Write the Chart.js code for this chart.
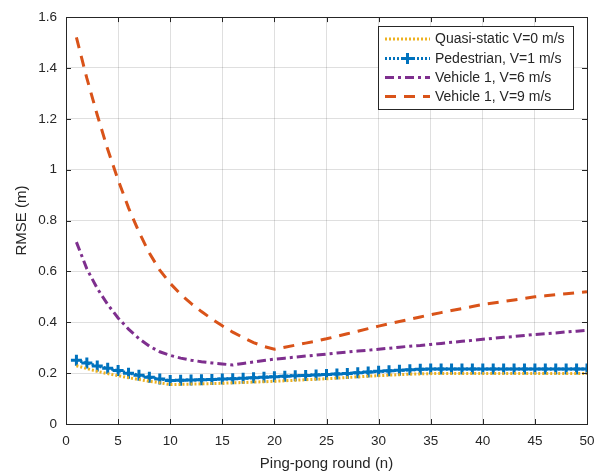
<!DOCTYPE html>
<html>
<head>
<meta charset="utf-8">
<script src="https://cdn.jsdelivr.net/npm/chart.js@4/dist/chart.umd.min.js"></script>
<style>
  html, body { margin: 0; padding: 0; background: #ffffff; }
  canvas { display: block; }
</style>
</head>
<body>
<canvas id="rmse-chart" width="604" height="476"></canvas>
<script>

// ping-pong rounds (x axis)
const rounds = [1, 2, 3, 4, 5, 6, 7, 8, 9, 10,
    11, 12, 13, 14, 15, 16, 17, 18, 19, 20,
    21, 22, 23, 24, 25, 26, 27, 28, 29, 30,
    31, 32, 33, 34, 35, 36, 37, 38, 39, 40,
    41, 42, 43, 44, 45, 46, 47, 48, 49, 50];

const quasiStatic = [0.229, 0.218, 0.207, 0.198, 0.190, 0.182, 0.175, 0.168, 0.162, 0.155,
    0.156, 0.157, 0.158, 0.159, 0.160, 0.162, 0.163, 0.165, 0.166, 0.168,
    0.170, 0.172, 0.174, 0.176, 0.178, 0.180, 0.183, 0.185, 0.188, 0.190,
    0.192, 0.194, 0.196, 0.197, 0.198, 0.199, 0.199, 0.199, 0.199, 0.199,
    0.199, 0.199, 0.199, 0.199, 0.199, 0.199, 0.199, 0.199, 0.199, 0.199];

const pedestrian = [0.251, 0.240, 0.228, 0.219, 0.210, 0.200, 0.192, 0.184, 0.177, 0.171,
    0.172, 0.173, 0.174, 0.175, 0.177, 0.178, 0.180, 0.182, 0.184, 0.186,
    0.188, 0.190, 0.191, 0.193, 0.195, 0.197, 0.199, 0.202, 0.204, 0.207,
    0.209, 0.211, 0.213, 0.215, 0.216, 0.216, 0.216, 0.216, 0.216, 0.216,
    0.216, 0.216, 0.216, 0.216, 0.216, 0.216, 0.216, 0.216, 0.216, 0.216];

const vehicle6 = [0.715, 0.610, 0.533, 0.470, 0.417, 0.373, 0.336, 0.306, 0.284, 0.270,
    0.259, 0.251, 0.245, 0.240, 0.236, 0.232, 0.238, 0.244, 0.250, 0.255,
    0.259, 0.263, 0.267, 0.271, 0.275, 0.279, 0.283, 0.287, 0.290, 0.294,
    0.298, 0.302, 0.306, 0.309, 0.313, 0.317, 0.321, 0.325, 0.329, 0.333,
    0.337, 0.341, 0.344, 0.348, 0.352, 0.355, 0.358, 0.362, 0.365, 0.368];

const vehicle9 = [1.520, 1.360, 1.215, 1.080, 0.960, 0.850, 0.755, 0.672, 0.605, 0.553,
    0.510, 0.474, 0.442, 0.413, 0.386, 0.361, 0.340, 0.320, 0.305, 0.294,
    0.302, 0.310, 0.318, 0.326, 0.335, 0.345, 0.355, 0.365, 0.375, 0.385,
    0.394, 0.403, 0.412, 0.421, 0.430, 0.438, 0.446, 0.454, 0.462, 0.470,
    0.476, 0.482, 0.488, 0.494, 0.500, 0.504, 0.508, 0.512, 0.516, 0.520];

const seriesLabels = [
    'Quasi-static V=0 m/s',
    'Pedestrian, V=1 m/s',
    'Vehicle 1, V=6 m/s',
    'Vehicle 1, V=9 m/s'
];

const yTickLabels = ['0', '0.2', '0.4', '0.6', '0.8', '1', '1.2', '1.4', '1.6'];

const axisColor = '#262626';
const gridColor = 'rgba(38,38,38,0.15)';
const fontFamily = '"Liberation Sans", Arial, Helvetica, sans-serif';

function toPoints(values) {
    return values.map((v, i) => ({ x: rounds[i], y: v }));
}

// box round the axes + inward ticks on all four sides, like matlab
const boxPlugin = {
    id: 'box',
    afterDatasetsDraw(chart) {
        const ctx = chart.ctx;
        const a = chart.chartArea;
        const xs = chart.scales.x;
        const ys = chart.scales.y;
        ctx.save();
        ctx.strokeStyle = axisColor;
        ctx.lineWidth = 1;
        ctx.beginPath();
        xs.ticks.forEach(t => {
            let px = Math.round(xs.getPixelForValue(t.value)) + 0.5;
            ctx.moveTo(px, a.bottom); ctx.lineTo(px, a.bottom - 5);
            ctx.moveTo(px, a.top); ctx.lineTo(px, a.top + 5);
        });
        ys.ticks.forEach(t => {
            let py = Math.round(ys.getPixelForValue(t.value)) + 0.5;
            ctx.moveTo(a.left, py); ctx.lineTo(a.left + 5, py);
            ctx.moveTo(a.right, py); ctx.lineTo(a.right - 5, py);
        });
        ctx.stroke();
        ctx.strokeRect(Math.round(a.left) + 0.5, Math.round(a.top) + 0.5,
            Math.round(a.right - a.left), Math.round(a.bottom - a.top));
        ctx.restore();
    }
};

// legend box in the top right corner
const legendPlugin = {
    id: 'boxLegend',
    afterDraw(chart) {
        const ctx = chart.ctx;
        const x0 = 378, y0 = 26, w = 195, h = 83;
        const rowY = [39, 58.5, 77.5, 96.5];
        ctx.save();
        ctx.fillStyle = '#ffffff';
        ctx.fillRect(x0, y0, w, h);
        ctx.strokeStyle = axisColor;
        ctx.lineWidth = 1;
        ctx.strokeRect(x0 + 0.5, y0 + 0.5, w, h);
        chart.data.datasets.forEach((ds, i) => {
            let y = rowY[i];
            ctx.strokeStyle = ds.borderColor;
            ctx.lineWidth = ds.borderWidth;
            ctx.setLineDash(ds.borderDash || []);
            ctx.beginPath();
            ctx.moveTo(385, y);
            ctx.lineTo(430, y);
            ctx.stroke();
            ctx.setLineDash([]);
            if (ds.pointRadius > 0) {
                ctx.lineWidth = ds.pointBorderWidth;
                ctx.beginPath();
                ctx.moveTo(407.5 - ds.pointRadius, y); ctx.lineTo(407.5 + ds.pointRadius, y);
                ctx.moveTo(407.5, y - ds.pointRadius); ctx.lineTo(407.5, y + ds.pointRadius);
                ctx.stroke();
            }
            ctx.fillStyle = axisColor;
            ctx.font = '14px ' + fontFamily;
            ctx.textBaseline = 'middle';
            ctx.fillText(ds.label, 435, y + 0.5);
        });
        ctx.restore();
    }
};

const data = {
    datasets: [{
        label: seriesLabels[0],
        data: toPoints(quasiStatic),
        borderColor: '#EDB120',
        borderWidth: 3,
        borderDash: [2, 2],
        pointRadius: 0
    }, {
        label: seriesLabels[1],
        data: toPoints(pedestrian),
        borderColor: '#0072BD',
        borderWidth: 3,
        borderDash: [2, 2],
        pointStyle: 'cross',
        pointRadius: 5.5,
        pointBorderWidth: 3,
        pointBorderColor: '#0072BD'
    }, {
        label: seriesLabels[2],
        data: toPoints(vehicle6),
        borderColor: '#7E2F8E',
        borderWidth: 3,
        borderDash: [9, 4, 3, 4],
        pointRadius: 0
    }, {
        label: seriesLabels[3],
        data: toPoints(vehicle9),
        borderColor: '#D95319',
        borderWidth: 3,
        borderDash: [11, 8],
        pointRadius: 0
    }]
};

const config = {
    type: 'line',
    data: data,
    options: {
        responsive: false,
        animation: false,
        devicePixelRatio: 1,
        layout: { padding: { top: 12, right: 17, left: 0, bottom: 0 } },
        elements: { line: { tension: 0, fill: false } },
        plugins: {
            legend: { display: false },
            tooltip: { enabled: false }
        },
        scales: {
            x: {
                type: 'linear',
                min: 0,
                max: 50,
                afterFit(scale) { scale.height = 52; },
                ticks: {
                    stepSize: 5,
                    color: axisColor,
                    padding: 9,
                    maxRotation: 0,
                    font: { size: 13.5, family: fontFamily }
                },
                grid: { color: gridColor, drawTicks: false },
                border: { color: axisColor },
                title: {
                    display: true,
                    text: 'Ping-pong round (n)',
                    color: axisColor,
                    padding: { top: 0, bottom: 3 },
                    font: { size: 15, family: fontFamily }
                }
            },
            y: {
                min: 0,
                max: 1.6,
                afterFit(scale) { scale.width = 66; },
                ticks: {
                    stepSize: 0.2,
                    color: axisColor,
                    padding: 9,
                    font: { size: 13.5, family: fontFamily },
                    callback: (v, i) => yTickLabels[i]
                },
                grid: { color: gridColor, drawTicks: false },
                border: { color: axisColor },
                title: {
                    display: true,
                    text: 'RMSE (m)',
                    color: axisColor,
                    padding: { top: 13, bottom: 0 },
                    font: { size: 15, family: fontFamily }
                }
            }
        }
    },
    plugins: [boxPlugin, legendPlugin]
};

let chart = new Chart(document.getElementById('rmse-chart').getContext('2d'), config);

</script>
</body>
</html>
